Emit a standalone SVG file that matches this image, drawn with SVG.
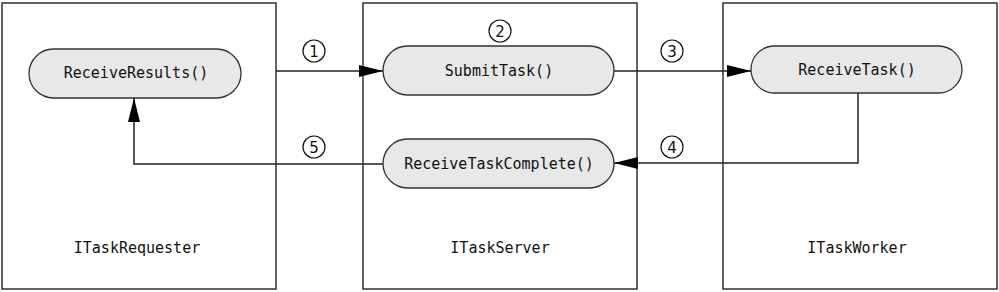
<svg xmlns="http://www.w3.org/2000/svg" width="999" height="292" viewBox="0 0 999 292">
<style>
.box{fill:#fff;stroke:#333;stroke-width:1.5}
.pill{fill:#e8e8e8;stroke:#333;stroke-width:1.3}
.t{font-family:"DejaVu Sans Mono","Liberation Mono",monospace;font-size:15px;fill:#111;text-anchor:middle}
.n{font-family:"DejaVu Sans","Liberation Sans",sans-serif;font-size:15px;fill:#111;text-anchor:middle}
.c{fill:#fff;stroke:#111;stroke-width:1.2}
.ln{fill:none;stroke:#222;stroke-width:1.5}
</style>
<defs>
<marker id="ah" markerWidth="24" markerHeight="12" refX="24" refY="6" orient="auto" markerUnits="userSpaceOnUse">
<path d="M0,0 L24,6 L0,12 Z" fill="#000"/>
</marker>
</defs>
<g id="requester">
<rect class="box" x="2" y="3" width="274" height="286"/>
<text class="t" x="137" y="253">ITaskRequester</text>
</g>
<g id="server">
<rect class="box" x="363" y="3" width="274" height="286"/>
<text class="t" x="500" y="253">ITaskServer</text>
</g>
<g id="worker">
<rect class="box" x="723" y="3" width="274" height="286"/>
<text class="t" x="857" y="253">ITaskWorker</text>
</g>
<g id="receiveResults">
<rect class="pill" x="29" y="49" width="212" height="49" rx="24.5"/>
<text class="t" x="136" y="78">ReceiveResults()</text>
</g>
<g id="submitTask">
<rect class="pill" x="383" y="46" width="231" height="49" rx="24.5"/>
<text class="t" x="499" y="76">SubmitTask()</text>
</g>
<g id="receiveTaskComplete">
<rect class="pill" x="383" y="139" width="231" height="49" rx="24.5"/>
<text class="t" x="499" y="169">ReceiveTaskComplete()</text>
</g>
<g id="receiveTask">
<rect class="pill" x="751" y="46" width="211" height="47" rx="23.5"/>
<text class="t" x="857" y="75">ReceiveTask()</text>
</g>
<g id="connectors">
<path class="ln" d="M276,71 L383,71" marker-end="url(#ah)"/>
<path class="ln" d="M614,71 L751,71" marker-end="url(#ah)"/>
<path class="ln" d="M858,93 L858,163 L614,163" marker-end="url(#ah)"/>
<path class="ln" d="M383,164 L134,164 L134,98" marker-end="url(#ah)"/>
</g>
<g id="labels">
<circle class="c" cx="314" cy="51" r="11"/><text class="n" x="314" y="56.5">1</text>
<circle class="c" cx="500" cy="31" r="11"/><text class="n" x="500" y="36.5">2</text>
<circle class="c" cx="672" cy="51" r="11"/><text class="n" x="672" y="56.5">3</text>
<circle class="c" cx="672" cy="147" r="11"/><text class="n" x="672" y="152.5">4</text>
<circle class="c" cx="314" cy="147" r="11"/><text class="n" x="314" y="152.5">5</text>
</g>
</svg>
